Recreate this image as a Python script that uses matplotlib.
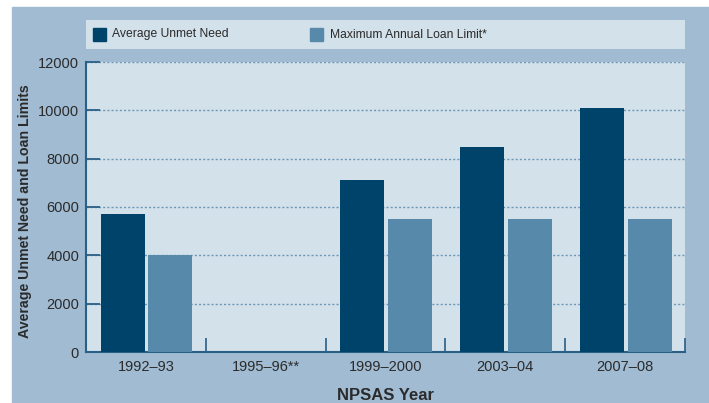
import matplotlib
matplotlib.use("Agg")
import matplotlib.pyplot as plt
from matplotlib.patches import Rectangle
import numpy as np

plt.rcParams["font.family"] = ["Liberation Sans Narrow", "Liberation Sans", "DejaVu Sans"]

YEARS = ["1992–93", "1995–96**", "1999–2000", "2003–04", "2007–08"]
UNMET_NEED = [5720, 0, 7130, 8500, 10100]
LOAN_LIMIT = [4000, 0, 5500, 5500, 5500]
YTICKS = [0, 2000, 4000, 6000, 8000, 10000, 12000]

DARK, LIGHT = "#00436a", "#5789aa"
PANEL, OUTER = "#d3e1ea", "#a0bbd2"
SPINE, GRID, TXT = "#2a5f86", "#6c98b8", "#2b2b2b"

W, H = 709, 403
fig = plt.figure(figsize=(W / 100, H / 100), dpi=100)
fig.patches.append(Rectangle((12 / W, 0), 1, 1 - 7 / H, transform=fig.transFigure,
                             color=OUTER, zorder=-10))

ax = fig.add_axes([86 / W, 1 - 352 / H, (685 - 86) / W, (352 - 62) / H])
ax.set_facecolor(PANEL)
x = np.arange(len(YEARS))
bw = 0.367
ax.bar(x - 0.195, UNMET_NEED, bw, color=DARK, zorder=3)
ax.bar(x + 0.205, LOAN_LIMIT, bw, color=LIGHT, zorder=3)

ax.set_xlim(-0.5, len(YEARS) - 0.5)
ax.set_ylim(0, 12000)
ax.set_yticks(YTICKS)
ax.set_yticklabels([str(v) for v in YTICKS])
ax.set_xticks(x)
ax.set_xticklabels(YEARS)
ax.tick_params(axis="x", length=0, labelsize=10.5, colors=TXT, pad=6)
ax.tick_params(axis="y", direction="in", length=10, width=1.3, color=SPINE,
               labelsize=10.5, labelcolor=TXT, pad=5)
ax.set_xticks(np.arange(len(YEARS) + 1) - 0.5, minor=True)
ax.tick_params(axis="x", which="minor", direction="in", length=10, width=1.2, color=SPINE)
ax.grid(axis="y", linestyle=(0, (1.5, 1.5)), color=GRID, linewidth=1.0, zorder=1)
for side in ["top", "right"]:
    ax.spines[side].set_visible(False)
for side in ["left", "bottom"]:
    ax.spines[side].set_color(SPINE)
    ax.spines[side].set_linewidth(1.5)

ax.set_xlabel("NPSAS Year", fontsize=12, fontweight="bold", color=TXT, labelpad=10)
fig.text(25 / W, 1 - 211 / H, "Average Unmet Need and Loan Limits", rotation=90,
         ha="center", va="center", fontsize=10.2, fontweight="bold", color=TXT)

# legend strip
lax = fig.add_axes([86 / W, 1 - 49 / H, (685 - 86) / W, 29 / H])
lax.set_facecolor(PANEL)
lax.set_xlim(0, 599)
lax.set_ylim(0, 29)
lax.set_xticks([])
lax.set_yticks([])
for sp in lax.spines.values():
    sp.set_visible(False)
lax.add_patch(Rectangle((7, 8), 13, 13, color=DARK))
lax.text(26, 14.5, "Average Unmet Need", va="center", fontsize=8.7, color=TXT)
lax.add_patch(Rectangle((224, 8), 13, 13, color=LIGHT))
lax.text(244, 14.5, "Maximum Annual Loan Limit*", va="center", fontsize=8.7, color=TXT)

fig.savefig("out.png", dpi=100, facecolor="white")
